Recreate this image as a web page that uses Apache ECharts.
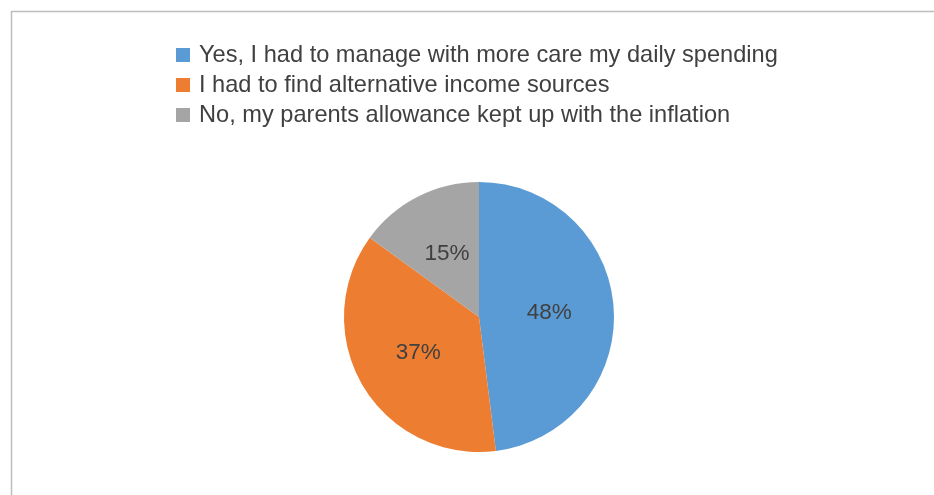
<!DOCTYPE html>
<html>
<head>
<meta charset="utf-8">
<script src="https://cdn.jsdelivr.net/npm/echarts@6/dist/echarts.min.js"></script>
<style>
html,body{margin:0;padding:0;background:#fff;}
#chart{width:934px;height:495px;}
</style>
</head>
<body>
<div id="chart"></div>
<script>
var categories = [
  'Yes, I had to manage with more care my daily spending',
  'I had to find alternative income sources',
  'No, my parents allowance kept up with the inflation'
];
var values = [48, 37, 15];
var colors = ['#5B9BD5', '#ED7D31', '#A5A5A5'];

var chart = echarts.init(document.getElementById('chart'), null, {renderer: 'canvas'});
var data = categories.map(function (c, i) {
  return {name: c, value: values[i], itemStyle: {color: colors[i]}};
});
chart.setOption({
  backgroundColor: '#ffffff',
  animation: false,
  graphic: [{
    type: 'rect',
    shape: {x: 11.5, y: 11.5, width: 1000, height: 1000},
    style: {fill: 'none', stroke: '#bdbdbd', lineWidth: 1.5},
    silent: true
  }],
  legend: {
    orient: 'vertical',
    left: 171,
    top: 38,
    itemWidth: 14,
    itemHeight: 14,
    itemGap: 6,
    icon: 'rect',
    textStyle: {
      fontFamily: 'Liberation Sans',
      fontSize: 23.6,
      lineHeight: 24,
      color: '#404040',
      padding: [0, 0, 0, 4]
    },
    data: categories
  },
  series: [{
    type: 'pie',
    center: [479, 317],
    radius: 135,
    startAngle: 90,
    clockwise: true,
    label: {
      show: true,
      position: 'inside',
      formatter: function (p) { return Math.round(p.percent) + '%'; },
      fontFamily: 'Liberation Sans',
      fontSize: 22.5,
      lineHeight: 30,
      padding: [6, 0, 0, 0],
      color: '#404040'
    },
    labelLine: {show: false},
    emphasis: {disabled: true},
    itemStyle: {borderWidth: 0},
    data: data
  }]
});
</script>
</body>
</html>
